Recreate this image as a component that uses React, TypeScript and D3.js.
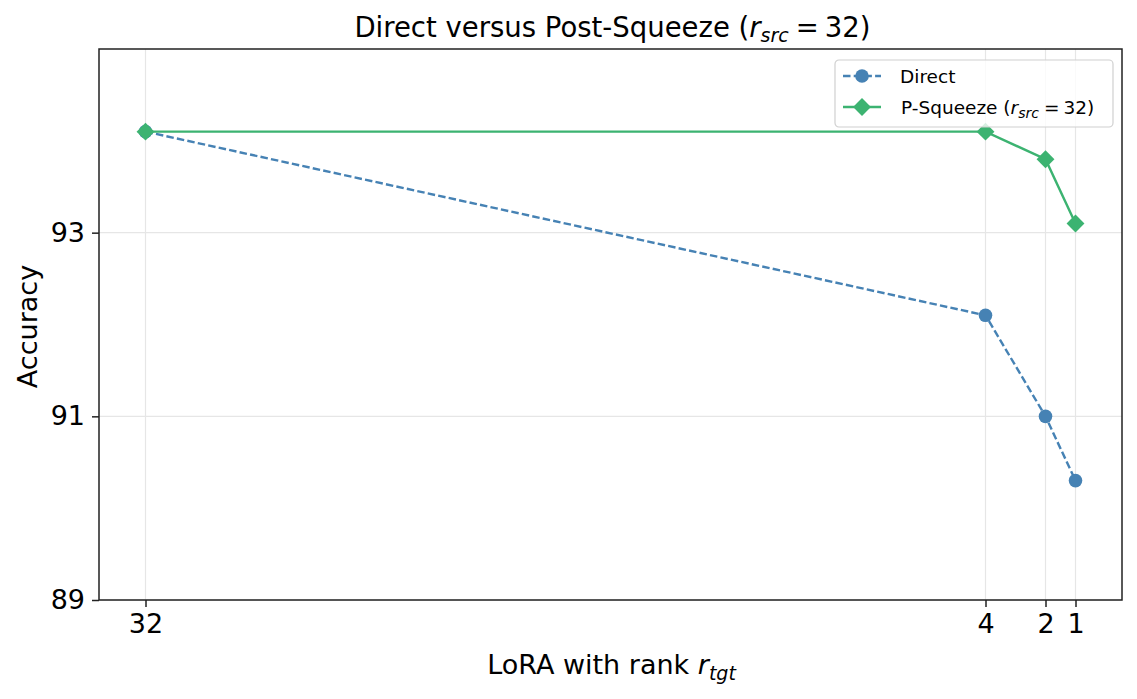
import { useEffect, useRef } from 'react'
import * as d3 from 'd3'

// target ranks on the x axis
const ranks = [32, 4, 2, 1]
const xTicks = [32, 4, 2, 1]
const yTicks = [89, 91, 93]

// accuracy per rank
const directAcc = [94.1, 92.1, 91.0, 90.3]
const squeezeAcc = [94.1, 94.1, 93.8, 93.1]

const W = 1137
const H = 699
const margin = { top: 49, right: 15, bottom: 99, left: 99 }

const BLUE = '#4682b4'
const GREEN = '#3cb371'
const FONT = 'DejaVu Sans, sans-serif'

export default function App() {
  const svgRef = useRef<SVGSVGElement>(null)

  useEffect(() => {
    const svg = d3.select(svgRef.current)
    svg.selectAll('*').remove()

    const x = d3.scaleLinear([33.55, -0.55], [margin.left, W - margin.right])
    const y = d3.scaleLinear([89, 95], [H - margin.bottom, margin.top])

    // grid
    const grid = svg.append('g').attr('stroke', '#e6e6e6').attr('stroke-width', 1.2)
    grid.selectAll('.gx').data(xTicks).join('line')
      .attr('x1', d => x(d)).attr('x2', d => x(d))
      .attr('y1', margin.top).attr('y2', H - margin.bottom)
    grid.selectAll('.gy').data(yTicks).join('line')
      .attr('y1', d => y(d)).attr('y2', d => y(d))
      .attr('x1', margin.left).attr('x2', W - margin.right)

    // axes
    const xAxis = d3.axisBottom(x).tickValues(xTicks).tickSize(7).tickPadding(7).tickFormat(d3.format('d'))
    const yAxis = d3.axisLeft(y).tickValues(yTicks).tickSize(7).tickPadding(7).tickFormat(d3.format('d'))
    const gx = svg.append('g').attr('transform', `translate(0,${H - margin.bottom})`).call(xAxis)
    const gy = svg.append('g').attr('transform', `translate(${margin.left},0)`).call(yAxis)
    ;[gx, gy].forEach(g => {
      g.select('.domain').remove()
      g.selectAll('.tick line').attr('stroke', '#222').attr('stroke-width', 1.5)
      g.selectAll('.tick text').attr('fill', '#000').style('font-family', FONT).style('font-size', '27px')
    })

    // frame
    svg.append('rect')
      .attr('x', margin.left).attr('y', margin.top)
      .attr('width', W - margin.left - margin.right)
      .attr('height', H - margin.top - margin.bottom)
      .attr('fill', 'none').attr('stroke', '#222').attr('stroke-width', 1.5)

    const line = d3.line<number>().x((_, i) => x(ranks[i])).y(d => y(d))

    // direct series
    svg.append('path').datum(directAcc)
      .attr('d', line).attr('fill', 'none')
      .attr('stroke', BLUE).attr('stroke-width', 2.4).attr('stroke-dasharray', '7.5,3.2')
    svg.selectAll('.dot').data(directAcc).join('circle')
      .attr('cx', (_, i) => x(ranks[i])).attr('cy', d => y(d)).attr('r', 6.8)
      .attr('fill', BLUE)

    // p-squeeze series
    svg.append('path').datum(squeezeAcc)
      .attr('d', line).attr('fill', 'none')
      .attr('stroke', GREEN).attr('stroke-width', 2.4)
    const diamond = d3.symbol(d3.symbolSquare, 160)()
    svg.selectAll('.dia').data(squeezeAcc).join('path')
      .attr('d', diamond)
      .attr('transform', (d, i) => `translate(${x(ranks[i])},${y(d)}) rotate(45)`)
      .attr('fill', GREEN)

    // legend
    const lg = svg.append('g').attr('transform', 'translate(835,60)')
    lg.append('rect').attr('width', 278).attr('height', 67).attr('rx', 4)
      .attr('fill', 'white').attr('fill-opacity', 0.8)
      .attr('stroke', '#d0d0d0').attr('stroke-width', 1.2)
    lg.append('line').attr('x1', 8).attr('x2', 46).attr('y1', 16).attr('y2', 16)
      .attr('stroke', BLUE).attr('stroke-width', 2.4).attr('stroke-dasharray', '7.5,3.2')
    lg.append('circle').attr('cx', 27).attr('cy', 16).attr('r', 6.8).attr('fill', BLUE)
    lg.append('line').attr('x1', 8).attr('x2', 46).attr('y1', 47).attr('y2', 47)
      .attr('stroke', GREEN).attr('stroke-width', 2.4)
    lg.append('path').attr('d', diamond).attr('transform', 'translate(27,47) rotate(45)').attr('fill', GREEN)
    const lt = lg.append('g').style('font-family', FONT).style('font-size', '18.5px').attr('fill', '#000')
    lt.append('text').attr('x', 65).attr('y', 23).text('Direct')
    const t2 = lt.append('text').attr('x', 66).attr('y', 54)
    t2.append('tspan').text('P-Squeeze (')
    t2.append('tspan').attr('font-style', 'italic').text('r')
    t2.append('tspan').attr('font-style', 'italic').attr('font-size', '14px').attr('dy', 4).text('src')
    t2.append('tspan').attr('dy', -4).attr('dx', 5).text('=')
    t2.append('tspan').attr('dx', 4).text('32)')

    // title
    const title = svg.append('text').attr('x', (margin.left + W - margin.right) / 2 + 2).attr('y', 37)
      .attr('text-anchor', 'middle').style('font-family', FONT).style('font-size', '27.5px')
    title.append('tspan').text('Direct versus Post-Squeeze (')
    title.append('tspan').attr('font-style', 'italic').text('r')
    title.append('tspan').attr('font-style', 'italic').attr('font-size', '19px').attr('dy', 5).text('src')
    title.append('tspan').attr('dy', -5).attr('dx', 7).text('=')
    title.append('tspan').attr('dx', 6).text('32)')

    // x label
    const xl = svg.append('text').attr('x', (margin.left + W - margin.right) / 2 + 1).attr('y', 674)
      .attr('text-anchor', 'middle').style('font-family', FONT).style('font-size', '27px')
    xl.append('tspan').text('LoRA with rank ')
    xl.append('tspan').attr('font-style', 'italic').text('r')
    xl.append('tspan').attr('font-style', 'italic').attr('font-size', '19px').attr('dy', 6).text('tgt')

    // y label
    svg.append('text')
      .attr('transform', `translate(37,${(margin.top + H - margin.bottom) / 2 + 2}) rotate(-90)`)
      .attr('text-anchor', 'middle').style('font-family', FONT).style('font-size', '27px')
      .text('Accuracy')
  }, [])

  return <svg ref={svgRef} width={W} height={H} style={{ display: 'block', position: 'absolute', left: 0, top: 0, background: 'white' }} />
}
